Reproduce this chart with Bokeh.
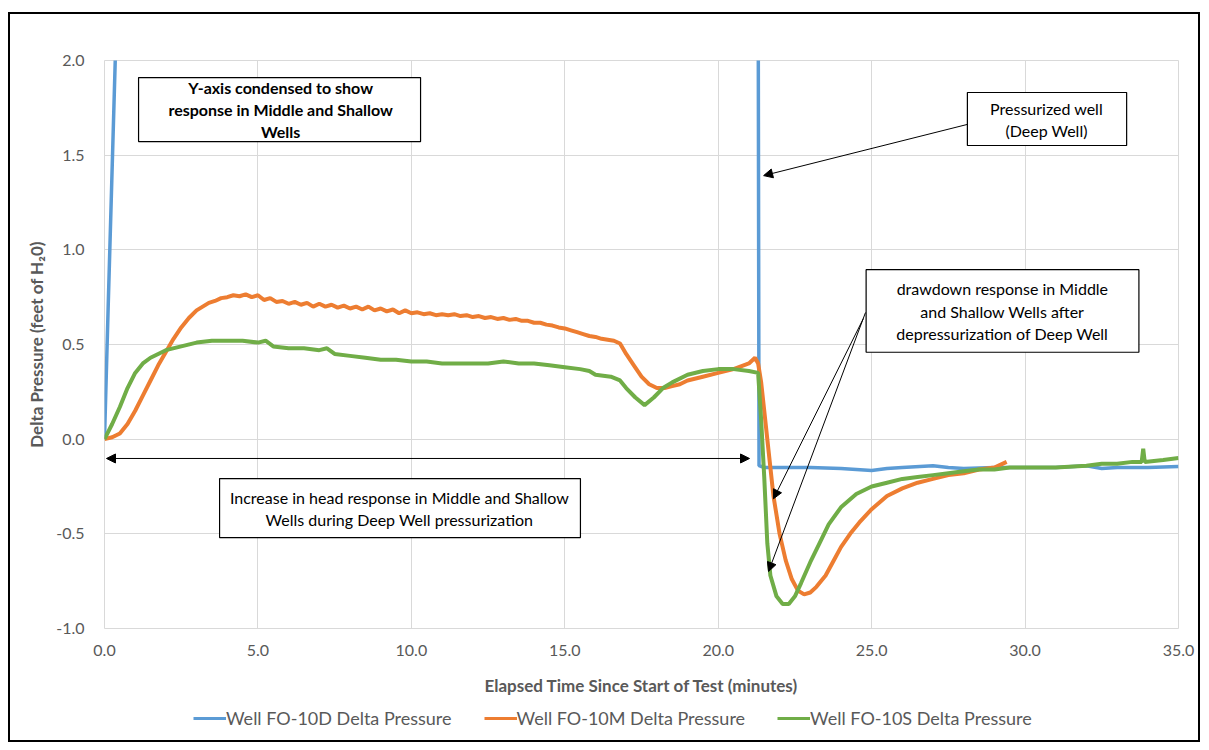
from bokeh.plotting import figure
from bokeh.layouts import column
from bokeh.models import (Range1d, Label, Arrow, NormalHead, Legend, LegendItem,
                          FixedTicker, NumeralTickFormatter, BoxAnnotation)
from bokeh.embed import file_html
from bokeh.resources import INLINE

# ---- data (elapsed minutes, delta pressure in ft of H2O) ----
deep_t = [0.0, 0.12, 0.35, 0.45, 21.3, 21.33, 21.5, 22.0, 23.0, 24.0, 25.0, 25.5,
          26.0, 27.0, 27.5, 28.0, 29.0, 30.0, 31.0, 32.0, 32.5, 33.0, 34.0, 35.0]
deep_p = [0.00, 0.70, 2.00, 2.60, 2.60, -0.14, -0.15, -0.15, -0.15, -0.155, -0.165, -0.155,
          -0.15, -0.14, -0.15, -0.155, -0.15, -0.15, -0.15, -0.14, -0.155, -0.15, -0.15, -0.145]

mid_t = [0.0, 0.25, 0.5, 0.75, 1.0, 1.25, 1.5, 1.75, 2.0, 2.25, 2.5, 2.75,
         3.0, 3.2, 3.4, 3.6, 3.8, 4.0, 4.2, 4.4, 4.6, 4.8, 5.0, 5.2, 5.4, 5.6, 5.8,
         6.0, 6.2, 6.4, 6.6, 6.8, 7.0, 7.2, 7.4, 7.6, 7.8, 8.0, 8.2, 8.4, 8.6, 8.8,
         9.0, 9.2, 9.4, 9.6, 9.8, 10.0, 10.2, 10.4, 10.6, 10.8, 11.0, 11.2, 11.4, 11.6, 11.8,
         12.0, 12.2, 12.4, 12.6, 12.8, 13.0, 13.2, 13.4, 13.6, 13.8, 14.0, 14.2, 14.4, 14.6,
         14.8, 15.0, 15.2, 15.4, 15.6, 15.8, 16.0, 16.2, 16.4, 16.6, 16.8,
         17.0, 17.25, 17.5, 17.75, 18.0, 18.25, 18.5, 18.75, 19.0, 19.5, 20.0, 20.5, 21.0,
         21.2, 21.3, 21.4, 21.5, 21.6, 21.7, 21.8, 22.0, 22.2, 22.4, 22.6, 22.8, 23.0, 23.2,
         23.5, 23.8, 24.0, 24.3, 24.6, 25.0, 25.5, 26.0, 26.5, 27.0, 27.5, 28.0, 28.5, 29.0,
         29.4]
mid_p = [0.00, 0.01, 0.03, 0.08, 0.15, 0.23, 0.31, 0.39, 0.46, 0.53, 0.59, 0.64,
         0.68, 0.70, 0.72, 0.73, 0.745, 0.75, 0.76, 0.755, 0.765, 0.75, 0.76, 0.735, 0.745,
         0.725, 0.73, 0.715, 0.725, 0.71, 0.72, 0.70, 0.715, 0.70, 0.71, 0.695, 0.705, 0.69,
         0.70, 0.685, 0.70, 0.68, 0.69, 0.675, 0.685, 0.665, 0.68, 0.665, 0.67, 0.66, 0.665,
         0.655, 0.66, 0.655, 0.66, 0.65, 0.655, 0.645, 0.65, 0.64, 0.645, 0.635, 0.64, 0.63,
         0.635, 0.625, 0.625, 0.615, 0.615, 0.605, 0.60, 0.59, 0.585, 0.575, 0.565, 0.555,
         0.545, 0.54, 0.53, 0.525, 0.52, 0.505,
         0.45, 0.39, 0.33, 0.29, 0.27, 0.27, 0.28, 0.29, 0.31, 0.33, 0.35, 0.37, 0.40,
         0.43, 0.40, 0.30, 0.15, 0.00, -0.15, -0.30, -0.50, -0.64, -0.74, -0.80, -0.82,
         -0.81, -0.78, -0.72, -0.63, -0.57, -0.50, -0.44, -0.37, -0.30, -0.26, -0.23,
         -0.21, -0.19, -0.18, -0.16, -0.15, -0.12]

shallow_t = [0.0, 0.25, 0.5, 0.75, 1.0, 1.25, 1.5, 1.75, 2.0, 2.5, 3.0, 3.5, 4.0, 4.5, 5.0,
             5.25, 5.5, 6.0, 6.5, 7.0, 7.25, 7.5, 8.0, 8.5, 9.0, 9.5, 10.0, 10.5, 11.0, 11.5,
             12.0, 12.5, 13.0, 13.5, 14.0, 14.5, 15.0, 15.5, 15.8, 16.0, 16.5, 16.8, 17.0,
             17.3, 17.6, 17.9, 18.2, 18.5, 19.0, 19.5, 20.0, 20.5, 21.0, 21.3, 21.4, 21.5,
             21.6, 21.7, 21.9, 22.1, 22.3, 22.5, 22.7, 23.0, 23.3, 23.6, 24.0, 24.5, 25.0,
             25.5, 26.0, 26.5, 27.0, 27.5, 28.0, 28.5, 29.0, 29.5, 30.0, 31.0, 32.0, 32.5,
             33.0, 33.5, 33.8, 33.85, 33.9, 34.5, 35.0]
shallow_p = [0.00, 0.08, 0.17, 0.27, 0.35, 0.40, 0.43, 0.45, 0.47, 0.49, 0.51, 0.52, 0.52,
             0.52, 0.51, 0.52, 0.49, 0.48, 0.48, 0.47, 0.48, 0.45, 0.44, 0.43, 0.42, 0.42,
             0.41, 0.41, 0.40, 0.40, 0.40, 0.40, 0.41, 0.40, 0.40, 0.39, 0.38, 0.37, 0.36,
             0.34, 0.33, 0.31, 0.27, 0.22, 0.18, 0.22, 0.27, 0.30, 0.34, 0.36, 0.37, 0.37,
             0.36, 0.35, 0.10, -0.20, -0.55, -0.72, -0.83, -0.87, -0.87, -0.83, -0.76, -0.65,
             -0.55, -0.45, -0.36, -0.29, -0.25, -0.23, -0.21, -0.20, -0.19, -0.18, -0.17,
             -0.16, -0.16, -0.15, -0.15, -0.15, -0.14, -0.13, -0.13, -0.12, -0.12, -0.05,
             -0.12, -0.11, -0.10]

x_ticks = [0, 5, 10, 15, 20, 25, 30, 35]
y_ticks = [-1.0, -0.5, 0.0, 0.5, 1.0, 1.5, 2.0]

series_names = ["Well FO-10D Delta Pressure", "Well FO-10M Delta Pressure",
                "Well FO-10S Delta Pressure"]
series_colors = ["#5b9bd5", "#ed7d31", "#70ad47"]
series_t = [deep_t, mid_t, shallow_t]
series_p = [deep_p, mid_p, shallow_p]

FONT = "Lato"
GREY = "#595959"
W = 1188
MAIN_H = 684
LEG_H = 726 - MAIN_H

p = figure(width=W, height=MAIN_H, output_backend="svg", toolbar_location=None,
           x_range=Range1d(0, 35), y_range=Range1d(-1.0, 2.0),
           min_border_left=94, min_border_right=20, min_border_top=46,
           min_border_bottom=MAIN_H - 46 - 568)
p.outline_line_color = "#d9d9d9"
p.background_fill_color = "white"
p.border_fill_color = "white"

for ax in (p.xaxis[0], p.yaxis[0]):
    ax.axis_line_color = None
    ax.major_tick_line_color = None
    ax.minor_tick_line_color = None
    ax.major_label_text_color = GREY
    ax.major_label_text_font = FONT
    ax.major_label_text_font_size = "16px"
    ax.axis_label_text_color = GREY
    ax.axis_label_text_font = FONT
    ax.axis_label_text_font_size = "17px"
    ax.axis_label_text_font_style = "bold"
    ax.formatter = NumeralTickFormatter(format="0.0")

p.xaxis.ticker = FixedTicker(ticks=x_ticks)
p.yaxis.ticker = FixedTicker(ticks=y_ticks)
p.xaxis.axis_label = "Elapsed Time Since Start of Test (minutes)"
p.yaxis.axis_label = "Delta Pressure (feet of H\u20820)"
p.xaxis.major_label_standoff = 10
p.yaxis.major_label_standoff = 14
p.xaxis.axis_label_standoff = 16
p.yaxis.axis_label_standoff = 6

p.xgrid.grid_line_color = "#d9d9d9"
p.ygrid.grid_line_color = "#d9d9d9"

widths = [3.5, 4, 4]
for t, v, c, w in zip(series_t, series_p, series_colors, widths):
    p.line(t, v, line_color=c, line_width=w)


def note_box(left, right, top, bottom):
    p.add_layout(BoxAnnotation(left=left, right=right, top=top, bottom=bottom,
                               fill_color="white", fill_alpha=1.0,
                               line_color="black", line_width=1.2, line_alpha=1.0))


def note_lines(x, ys, texts, bold=False):
    for y, t in zip(ys, texts):
        p.add_layout(Label(x=x, y=y, text=t, text_align="center", text_baseline="middle",
                           text_font=FONT, text_font_size="16px", text_color="black",
                           text_font_style="bold" if bold else "normal"))


def head():
    return NormalHead(size=9, fill_color="black", line_color="black")


# condensed axis note
note_box(1.11, 10.30, 1.910, 1.572)
note_lines(5.74, [1.857, 1.741, 1.625],
           ["Y-axis condensed to show", "response in Middle and Shallow", "Wells"], bold=True)

# pressurized well note
note_box(28.12, 33.31, 1.831, 1.551)
note_lines(30.70, [1.747, 1.630], ["Pressurized well", "(Deep Well)"])
p.add_layout(Arrow(end=head(), x_start=28.11, y_start=1.662, x_end=21.48, y_end=1.392,
                   line_color="black", line_width=1))

# drawdown note
note_box(24.82, 33.71, 0.895, 0.459)
note_lines(29.26, [0.795, 0.674, 0.558],
           ["drawdown response in Middle", "and Shallow Wells after",
            "depressurization of Deep Well"])
p.add_layout(Arrow(end=head(), x_start=24.73, y_start=0.637, x_end=21.80, y_end=-0.315,
                   line_color="black", line_width=1))
p.add_layout(Arrow(end=head(), x_start=24.80, y_start=0.669, x_end=21.64, y_end=-0.699,
                   line_color="black", line_width=1))

# pressurization span
p.add_layout(Arrow(start=head(), end=head(), x_start=0.065, y_start=-0.102,
                   x_end=21.02, y_end=-0.102, line_color="black", line_width=1))
note_box(3.75, 15.51, -0.208, -0.520)
note_lines(9.61, [-0.308, -0.424],
           ["Increase in head response in Middle and Shallow",
            "Wells during Deep Well pressurization"])

# legend strip below the chart; its view window lies outside the data so only the
# legend swatches show
lg = figure(width=W, height=LEG_H, output_backend="svg", toolbar_location=None,
            x_range=Range1d(100, 101), y_range=Range1d(100, 101),
            min_border=0, outline_line_color=None)
lg.axis.visible = False
lg.grid.visible = False
swatches = [lg.line(t, v, line_color=c, line_width=3)
            for t, v, c in zip(series_t, series_p, series_colors)]
legend = Legend(items=[LegendItem(label=n, renderers=[r]) for n, r in zip(series_names, swatches)],
                orientation="horizontal", location=(89, 11),
                label_text_font=FONT, label_text_font_size="18px", label_text_color=GREY,
                glyph_width=33, glyph_height=14, label_standoff=0, spacing=32,
                padding=2, margin=0, border_line_color=None, background_fill_alpha=0)
lg.add_layout(legend)

page = column(p, lg, spacing=0)
page.styles = {"border": "2px solid black", "margin-left": "8px", "margin-top": "12px"}

open("out.html", "w").write(file_html(page, INLINE))
